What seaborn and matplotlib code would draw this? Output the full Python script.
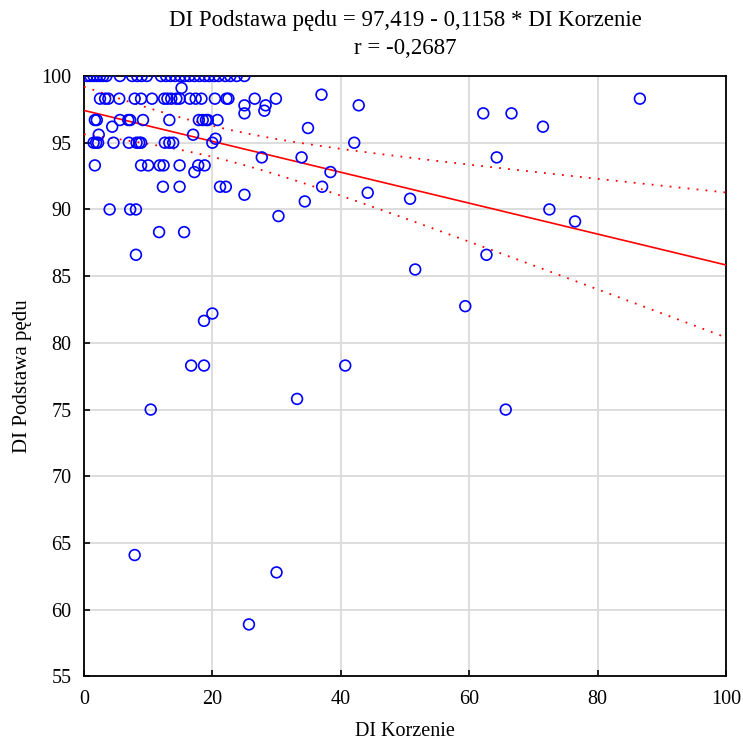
import numpy as np
import pandas as pd
import seaborn as sns
import matplotlib as mpl
import matplotlib.pyplot as plt
mpl.use('Agg')

# DI Korzenie (x) and DI Podstawa pędu (y), grouped by row
korzenie = [
    0.5, 1.0, 1.5, 2.0, 2.5, 3.0, 3.5, 5.6, 7.5, 8.3, 9.0, 9.8, 12.0, 12.8, 13.5,
    14.2, 15.0, 15.7, 16.4, 17.2, 18.0, 18.8, 19.5, 20.3, 21.0, 22.0, 22.8, 23.8, 25.0,
    15.2, 37.0,
    2.5, 3.3, 3.8, 5.5, 7.9, 8.9, 10.6, 12.5, 13.0, 13.6, 14.4, 14.9, 16.5, 17.4,
    18.3, 20.4, 22.2, 22.5, 26.6, 29.9, 86.6,
    25.0, 28.3, 42.8, 25.0, 62.2, 66.6, 28.1,
    1.7, 2.0, 5.6, 6.9, 7.2, 9.2, 13.3, 17.9, 18.5, 19.0, 19.3, 20.8,
    4.4, 71.5, 34.9, 2.3, 17.0, 20.5,
    1.5, 1.9, 2.2, 4.6, 7.0, 8.2, 8.6, 8.9, 12.6, 13.3, 13.9, 20.0, 42.1,
    27.7, 33.9, 64.3,
    1.7, 8.9, 10.0, 11.8, 12.4, 14.9, 17.8, 18.8,
    17.2, 38.4, 12.3, 14.9, 21.2, 22.1, 37.1, 44.2, 25.0, 50.8, 34.4,
    4.0, 7.2, 8.1, 72.5, 30.3, 76.5, 11.7, 15.6, 8.1, 62.7, 51.6, 59.4,
    20.0, 18.7, 16.7, 18.7, 40.7, 33.2, 10.4, 65.7, 7.9, 30.0, 25.7,
]
podstawa = (
    [100.0] * 29
    + [99.1, 98.6]
    + [98.3] * 21
    + [97.8, 97.8, 97.8, 97.2, 97.2, 97.2, 97.4]
    + [96.7] * 12
    + [96.2, 96.2, 96.1, 95.6, 95.6, 95.3]
    + [95.0] * 13
    + [93.9] * 3
    + [93.3] * 8
    + [92.8, 92.8, 91.7, 91.7, 91.7, 91.7, 91.7, 91.25, 91.1, 90.8, 90.6]
    + [90.0, 90.0, 90.0, 90.0, 89.5, 89.1, 88.3, 88.3, 86.6, 86.6, 85.5, 82.75]
    + [82.2, 81.65, 78.3, 78.3, 78.3, 75.8, 75.0, 75.0, 64.1, 62.8, 58.9]
)

# regression reported in the title
intercept = 97.419
slope = -0.1158

df = pd.DataFrame({'x': korzenie, 'y': podstawa})

# 95% confidence band of the fitted line
n = len(df)
xs = np.linspace(0, 100, 101)
fit = intercept + slope * xs
resid = df['y'] - (intercept + slope * df['x'])
s = np.sqrt((resid ** 2).sum() / (n - 2))
sxx = ((df['x'] - df['x'].mean()) ** 2).sum()
half = 1.85 * s * np.sqrt(1 / n + (xs - df['x'].mean()) ** 2 / sxx)
line_df = pd.DataFrame({'x': xs, 'fit': fit, 'lo': fit - half, 'hi': fit + half})

sns.set_style('white')
plt.rcParams['font.family'] = ['Liberation Serif', 'DejaVu Serif']

f, ax = plt.subplots(figsize=(7.43, 7.45), dpi=100)
f.subplots_adjust(left=0.113, right=0.977, bottom=0.092, top=0.898)

sns.lineplot(data=line_df, x='x', y='fit', ax=ax, color='red', lw=1.2, zorder=3)
for col in ['lo', 'hi']:
    sns.lineplot(data=line_df, x='x', y=col, ax=ax, color='red', lw=1.3,
                 linestyle=(0, (1, 4)), zorder=3)
sns.scatterplot(data=df, x='x', y='y', ax=ax, marker='o', s=60,
                facecolors='none', edgecolors='#0000ff', linewidth=1.2, zorder=4)

ax.set_xlim(0, 100)
ax.set_ylim(55, 100)
ax.set_xticks(range(0, 101, 20))
ax.set_yticks(range(55, 101, 5))
ax.grid(True, color='#dadada', lw=1.3)
ax.set_axisbelow(True)
for sp in ax.spines.values():
    sp.set_color('black')
    sp.set_linewidth(1.3)
ax.tick_params(direction='in', length=4, width=1.2, labelsize=14.5, pad=9,
               colors='black', top=False, right=False, bottom=True, left=True)
ax.tick_params(axis='x', pad=10)

ax.set_xlabel('DI Korzenie', fontsize=14.5, color='black', labelpad=9)
ax.set_ylabel('DI Podstawa pędu', fontsize=15, color='black', labelpad=7)
ax.set_title('DI Podstawa pędu = 97,419 - 0,1158 * DI Korzenie\nr = -0,2687',
             fontsize=16.5, color='black', pad=16, linespacing=1.45)

f.savefig('out.png', dpi=100)
